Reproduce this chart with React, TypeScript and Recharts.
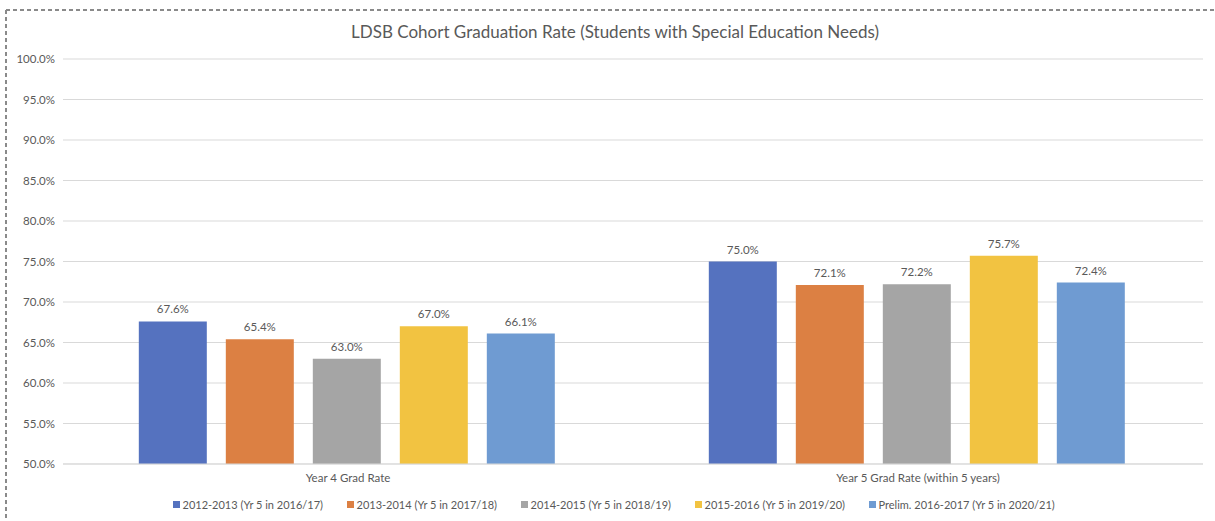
import React from 'react';
import {
  BarChart,
  Bar,
  XAxis,
  YAxis,
  CartesianGrid,
  Legend,
  LabelList,
} from 'recharts';

const categories = ['Year 4 Grad Rate', 'Year 5 Grad Rate (within 5 years)'];

const cohort2012 = [67.6, 75.0];
const cohort2013 = [65.4, 72.1];
const cohort2014 = [63.0, 72.2];
const cohort2015 = [67.0, 75.7];
const cohort2016 = [66.1, 72.4];

const yTicks = [50, 55, 60, 65, 70, 75, 80, 85, 90, 95, 100];

const seriesList = [
  { key: 's2012', name: '2012-2013 (Yr 5 in 2016/17)', values: cohort2012, fill: '#5572bf' },
  { key: 's2013', name: '2013-2014 (Yr 5 in 2017/18)', values: cohort2013, fill: '#dc8043' },
  { key: 's2014', name: '2014-2015 (Yr 5 in 2018/19)', values: cohort2014, fill: '#a5a5a5' },
  { key: 's2015', name: '2015-2016 (Yr 5 in 2019/20)', values: cohort2015, fill: '#f2c341' },
  { key: 's2016', name: 'Prelim. 2016-2017 (Yr 5 in 2020/21)', values: cohort2016, fill: '#6f9bd2' },
];

const data = categories.map((cat, i) => {
  const row: Record<string, string | number> = { category: cat };
  seriesList.forEach((s) => {
    row[s.key] = s.values[i];
  });
  return row;
});

const FONT = 'Lato, "Open Sans", sans-serif';
const TEXT = '#595959';

const pct = (v: number) => `${Number(v).toFixed(1)}%`;

function LegendContent(props: any) {
  const items = props.payload || [];
  return (
    <div
      style={{
        display: 'flex',
        justifyContent: 'center',
        paddingTop: 8,
        marginLeft: 4,
        fontFamily: FONT,
        fontSize: 11,
        color: TEXT,
      }}
    >
      {items.map((it: any) => (
        <div key={it.value} style={{ width: 174, flexShrink: 0, display: 'flex', alignItems: 'center', whiteSpace: 'nowrap' }}>
          <span style={{ display: 'inline-block', flexShrink: 0, width: 7, height: 7, background: it.color, marginRight: 3 }} />
          <span>{it.value}</span>
        </div>
      ))}
    </div>
  );
}

export default function App() {
  return (
    <div style={{ position: 'absolute', left: 0, top: 0, width: 1215, height: 521, background: '#fff', overflow: 'hidden' }}>
      <svg width={1215} height={521} style={{ position: 'absolute', left: 0, top: 0 }}>
        <line x1={6} y1={10} x2={1215} y2={10} stroke="#8a8a8a" strokeWidth={2} strokeDasharray="4 3" />
        <line x1={6} y1={10} x2={6} y2={521} stroke="#8a8a8a" strokeWidth={2} strokeDasharray="4 3" />
      </svg>
      <div
        style={{
          position: 'absolute',
          left: 0,
          top: 21,
          width: 1230,
          textAlign: 'center',
          fontFamily: FONT,
          fontSize: 17,
          color: TEXT,
        }}
      >
        LDSB Cohort Graduation Rate (Students with Special Education Needs)
      </div>
      <div style={{ position: 'absolute', left: 0, top: 0 }}>
        <BarChart
          width={1215}
          height={521}
          data={data}
          margin={{ top: 59, right: 12, left: 8, bottom: 0 }}
          barCategoryGap="13.3%"
          barGap={19}
        >
          <CartesianGrid vertical={false} stroke="#d9d9d9" />
          <XAxis
            dataKey="category"
            axisLine={{ stroke: '#d9d9d9' }}
            tickLine={false}
            tickMargin={4}
            tick={{ fill: TEXT, fontSize: 11.5, fontFamily: FONT }}
            height={26}
          />
          <YAxis
            domain={[50, 100]}
            ticks={yTicks}
            tickFormatter={pct}
            axisLine={false}
            tickLine={false}
            width={55}
            tick={{ fill: TEXT, fontSize: 11.5, fontFamily: FONT }}
          />
          <Legend verticalAlign="bottom" height={31} content={<LegendContent />} />
          {seriesList.map((s) => (
            <Bar key={s.key} dataKey={s.key} name={s.name} fill={s.fill} isAnimationActive={false}>
              <LabelList
                dataKey={s.key}
                position="top"
                offset={8}
                formatter={(v: any) => pct(v)}
                style={{ fill: TEXT, fontSize: 11.5, fontFamily: FONT }}
              />
            </Bar>
          ))}
        </BarChart>
      </div>
    </div>
  );
}
